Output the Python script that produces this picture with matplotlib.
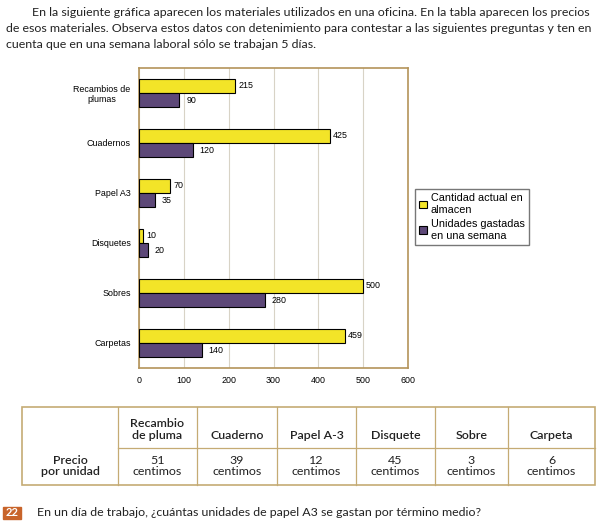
import numpy as np
import matplotlib
matplotlib.use("Agg")
import matplotlib.pyplot as plt
from matplotlib.patches import Rectangle

# chart data (top to bottom)
categorias = ["Recambios de\nplumas", "Cuadernos", "Papel A3", "Disquetes", "Sobres", "Carpetas"]
almacen = [215, 425, 70, 10, 500, 459]
gastadas = [90, 120, 35, 20, 280, 140]
serie_labels = ["Cantidad actual en\nalmacen", "Unidades gastadas\nen una semana"]
ticks_x = [0, 100, 200, 300, 400, 500, 600]

# price table
tabla_cols = ["Recambio\nde pluma", "Cuaderno", "Papel A-3", "Disquete", "Sobre", "Carpeta"]
precios = [51, 39, 12, 45, 3, 6]
fila_label = "Precio\npor unidad"

intro = ["En la siguiente gráfica aparecen los materiales utilizados en una oficina. En la tabla aparecen los precios",
         "de esos materiales. Observa estos datos con detenimiento para contestar a las siguientes preguntas y ten en",
         "cuenta que en una semana laboral sólo se trabajan 5 días."]
pregunta = "En un día de trabajo, ¿cuántas unidades de papel A3 se gastan por término medio?"

W, H = 613, 525
fig = plt.figure(figsize=(W / 100, H / 100), dpi=100)
fig.patch.set_facecolor("white")

# page layer in pixel coordinates
page = fig.add_axes([0, 0, 1, 1])
page.set_xlim(0, W)
page.set_ylim(H, 0)
page.axis("off")

body = "Lato"
fs = 8.9
ink = "#222"
page.text(32, 13, intro[0], fontsize=fs, family=body, va="center", color=ink)
page.text(6, 29, intro[1], fontsize=fs, family=body, va="center", color=ink)
page.text(6, 44, intro[2], fontsize=fs, family=body, va="center", color=ink)

# chart
yel = "#f3e428"
pur = "#5d4878"
frame = "#b4945a"
cf = {"family": "Liberation Sans", "size": 6.4, "color": "black"}
ax = fig.add_axes([139 / W, 1 - 368 / H, 269 / W, 300 / H])
y = np.arange(len(categorias))
h = 0.285
b1 = ax.barh(y - h / 2, almacen, height=h, color=yel, edgecolor="black", linewidth=0.8, zorder=3)
b2 = ax.barh(y + h / 2, gastadas, height=h, color=pur, edgecolor="black", linewidth=0.8, zorder=3)
ax.bar_label(b1, padding=2, **cf)
ax.bar_label(b2, padding=5, **cf)
ax.set_ylim(len(categorias) - 0.5, -0.5)
ax.set_xlim(0, 600)
ax.set_xticks(ticks_x)
ax.set_xticklabels([str(t) for t in ticks_x], **cf)
ax.set_yticks(y)
ax.set_yticklabels(categorias, multialignment="center", **cf)
ax.tick_params(length=0, pad=6)
ax.grid(axis="x", color="#d8d3c6", linewidth=0.8, zorder=0)
for s in ax.spines.values():
    s.set_color(frame)
    s.set_linewidth(1.2)

fig.legend([b1, b2], serie_labels, loc="upper left",
           bbox_to_anchor=(415 / W, 1 - 189 / H), borderaxespad=0,
           prop={"family": "Liberation Sans", "size": 7.8},
           frameon=True, fancybox=False, edgecolor="#777", framealpha=1,
           handlelength=0.7, handleheight=0.7, handletextpad=0.35,
           labelspacing=0.4, borderpad=0.4)

# table
xs = [22, 118, 197, 277, 356, 435, 508, 595]
top, mid, bot = 407, 448, 485
tan = "#c5ab74"
page.add_patch(Rectangle((xs[0], top), xs[-1] - xs[0], bot - top, fill=False, edgecolor=tan, linewidth=1.2))
page.plot([xs[1], xs[-1]], [mid, mid], color=tan, linewidth=0.9)
for x in xs[1:-1]:
    page.plot([x, x], [top, bot], color=tan, linewidth=0.9)
for i, (c, p) in enumerate(zip(tabla_cols, precios)):
    cx = (xs[i + 1] + xs[i + 2]) / 2
    page.text(cx, 441, c, ha="center", va="bottom", fontsize=fs, family=body,
              fontweight="semibold", color=ink, linespacing=1.1)
    page.text(cx, 466, f"{p}\ncentimos", ha="center", va="center", fontsize=fs,
              family=body, color=ink, linespacing=1.05)
page.text((xs[0] + xs[1]) / 2, 466, fila_label, ha="center", va="center", fontsize=fs,
          family=body, fontweight="semibold", color=ink, linespacing=1.05)

# question
page.add_patch(Rectangle((3, 507), 18, 12, color="#c8642a"))
page.text(12, 513, "22", ha="center", va="center", fontsize=8, family=body,
          fontweight="bold", color="white")
page.text(37, 513, pregunta, fontsize=fs, family=body, va="center", color=ink)

fig.savefig("out.png", dpi=100)
